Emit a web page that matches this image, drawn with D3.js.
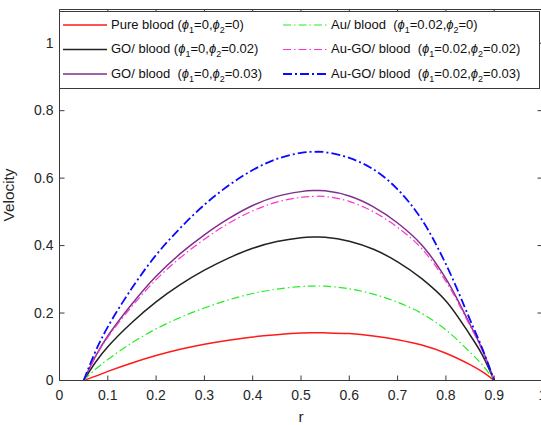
<!DOCTYPE html>
<html>
<head>
<meta charset="utf-8">
<script src="https://cdn.jsdelivr.net/npm/d3@7"></script>
<style>
  html, body { margin: 0; padding: 0; background: #fff; }
  svg text { font-family: "Liberation Sans", Arial, Helvetica, sans-serif; white-space: pre; }
</style>
</head>
<body>
<svg id="chart" width="541" height="425"></svg>
<script>
// Radial positions (r) where the velocity profiles are sampled
const radius = [0.05, 0.075, 0.1, 0.15, 0.2, 0.25, 0.3, 0.35, 0.4, 0.45, 0.5, 0.525, 0.55, 0.6, 0.65, 0.7, 0.75, 0.8, 0.85, 0.875, 0.9];

// Velocity profiles for each fluid
const pureBlood   = [0, 0.013, 0.027, 0.052, 0.074, 0.0925, 0.1075, 0.1195, 0.129, 0.1355, 0.1405, 0.1415, 0.1413, 0.139, 0.132, 0.121, 0.105, 0.081, 0.047, 0.026, 0];
const goBlood2    = [0, 0.055, 0.100, 0.172, 0.233, 0.284, 0.327, 0.363, 0.392, 0.412, 0.4235, 0.4255, 0.425, 0.413, 0.389, 0.352, 0.302, 0.236, 0.135, 0.077, 0];
const goBlood3    = [0, 0.073, 0.132, 0.227, 0.309, 0.376, 0.432, 0.480, 0.519, 0.546, 0.560, 0.563, 0.5625, 0.547, 0.515, 0.467, 0.402, 0.302, 0.166, 0.093, 0];
const auBlood     = [0, 0.034, 0.062, 0.112, 0.153, 0.187, 0.215, 0.239, 0.258, 0.271, 0.2786, 0.280, 0.2797, 0.272, 0.256, 0.232, 0.199, 0.150, 0.084, 0.047, 0];
const auGoBlood2  = [0, 0.071, 0.128, 0.220, 0.299, 0.364, 0.419, 0.466, 0.503, 0.529, 0.543, 0.546, 0.5455, 0.531, 0.500, 0.454, 0.391, 0.294, 0.162, 0.090, 0];
const auGoBlood3  = [0, 0.088, 0.159, 0.274, 0.372, 0.452, 0.521, 0.578, 0.624, 0.657, 0.675, 0.678, 0.677, 0.660, 0.626, 0.567, 0.477, 0.345, 0.180, 0.096, 0];

// Legend text pieces
const fluidNames = ["Pure blood ", "GO/ blood ", "GO/ blood  ", "Au/ blood  ", "Au-GO/ blood  ", "Au-GO/ blood  "];
const phi1Values = ["0", "0", "0", "0.02", "0.02", "0.02"];
const phi2Values = ["0", "0.02", "0.03", "0", "0.02", "0.03"];

// Axis ticks
const xTicks = [0, 0.1, 0.2, 0.3, 0.4, 0.5, 0.6, 0.7, 0.8, 0.9, 1];
const yTicks = [0, 0.2, 0.4, 0.6, 0.8, 1];

// Line styling per series
const seriesValues = [pureBlood, goBlood2, goBlood3, auBlood, auGoBlood2, auGoBlood3];
const seriesStyle = [
  { color: "#ff1a1a", width: 1.5, dash: null },
  { color: "#222222", width: 1.5, dash: null },
  { color: "#7e2f8e", width: 1.5, dash: null },
  { color: "#22ee22", width: 1.2, dash: "8,3,1.5,3" },
  { color: "#ff33cc", width: 1.2, dash: "8,3,1.5,3" },
  { color: "#0a0aff", width: 1.8, dash: "9,3,2,3" }
];

const svg = d3.select("#chart");
const axisColor = "#3a3a3a";
const textColor = "#262626";

const x = d3.scaleLinear().domain([0, 1]).range([59.5, 542.5]);
const y = d3.scaleLinear().domain([0, 1.1]).range([380.5, 9.5]);

const fmt = d => (d === 0 ? "0" : String(+d.toFixed(1)));

// Curves
const line = d3.line()
  .x(d => x(d[0]))
  .y(d => y(d[1]))
  .curve(d3.curveCatmullRom.alpha(0.5));

seriesValues.forEach((vals, i) => {
  const pts = radius.map((r, k) => [r, vals[k]]);
  const p = svg.append("path")
    .attr("d", line(pts))
    .attr("fill", "none")
    .attr("stroke", seriesStyle[i].color)
    .attr("stroke-width", seriesStyle[i].width)
    .attr("stroke-linejoin", "round");
  if (seriesStyle[i].dash) p.attr("stroke-dasharray", seriesStyle[i].dash);
});

// Axes (ticks point inward, box style)
function styleAxis(g) {
  g.selectAll("path.domain").attr("stroke", axisColor).attr("stroke-width", 1);
  g.selectAll(".tick line").attr("stroke", axisColor).attr("stroke-width", 1);
  g.selectAll(".tick text").attr("fill", textColor);
}

svg.append("g")
  .attr("transform", `translate(0,${y(0)})`)
  .call(d3.axisBottom(x).tickValues(xTicks).tickFormat(fmt)
    .tickSizeInner(-5).tickSizeOuter(0).tickPadding(10).offset(0))
  .attr("font-size", 14).attr("font-family", null)
  .call(styleAxis);

svg.append("g")
  .attr("transform", `translate(0,${y(1.1)})`)
  .call(d3.axisTop(x).tickValues(xTicks).tickFormat("")
    .tickSizeInner(-5).tickSizeOuter(0).offset(0))
  .call(styleAxis);

svg.append("g")
  .attr("transform", `translate(${x(0)},0)`)
  .call(d3.axisLeft(y).tickValues(yTicks).tickFormat(fmt)
    .tickSizeInner(-5).tickSizeOuter(0).tickPadding(6).offset(0))
  .attr("font-size", 14).attr("font-family", null)
  .call(styleAxis);

svg.append("g")
  .attr("transform", `translate(${x(1)},0)`)
  .call(d3.axisRight(y).tickValues(yTicks).tickFormat("")
    .tickSizeInner(-5).tickSizeOuter(0).offset(0))
  .call(styleAxis);

// Axis titles
svg.append("text")
  .attr("x", (x(0) + x(1)) / 2)
  .attr("y", 421.5)
  .attr("text-anchor", "middle")
  .attr("font-size", 15.4)
  .attr("fill", textColor)
  .text("r");

svg.append("text")
  .attr("transform", `translate(14,${(y(0) + y(1.1)) / 2}) rotate(-90)`)
  .attr("text-anchor", "middle")
  .attr("font-size", 15.4)
  .attr("fill", textColor)
  .text("Velocity");

// Legend
const legend = svg.append("g");
legend.append("rect")
  .attr("x", 59.5).attr("y", 11.5)
  .attr("width", 480).attr("height", 77)
  .attr("fill", "#fff")
  .attr("stroke", axisColor)
  .attr("stroke-width", 1);

const rowY = [25, 49.5, 74];
const colLineX = [63, 283];
const colTextX = [111, 331];

seriesValues.forEach((_, i) => {
  const col = Math.floor(i / 3), row = i % 3;
  const ly = rowY[row];
  const ln = legend.append("line")
    .attr("x1", colLineX[col]).attr("x2", colLineX[col] + 44)
    .attr("y1", ly).attr("y2", ly)
    .attr("stroke", seriesStyle[i].color)
    .attr("stroke-width", seriesStyle[i].width);
  if (seriesStyle[i].dash) ln.attr("stroke-dasharray", seriesStyle[i].dash);

  const t = legend.append("text")
    .attr("x", colTextX[col])
    .attr("y", ly + 3.7)
    .attr("font-size", 13)
    .attr("fill", "#111");
  t.append("tspan").text(fluidNames[i] + "(");
  t.append("tspan").attr("font-style", "italic").text("ϕ");
  t.append("tspan").attr("font-size", 9).attr("dy", 4).text("1");
  t.append("tspan").attr("dy", -4).text("=" + phi1Values[i] + ",");
  t.append("tspan").attr("font-style", "italic").text("ϕ");
  t.append("tspan").attr("font-size", 9).attr("dy", 4).text("2");
  t.append("tspan").attr("dy", -4).text("=" + phi2Values[i] + ")");
});
</script>
</body>
</html>
